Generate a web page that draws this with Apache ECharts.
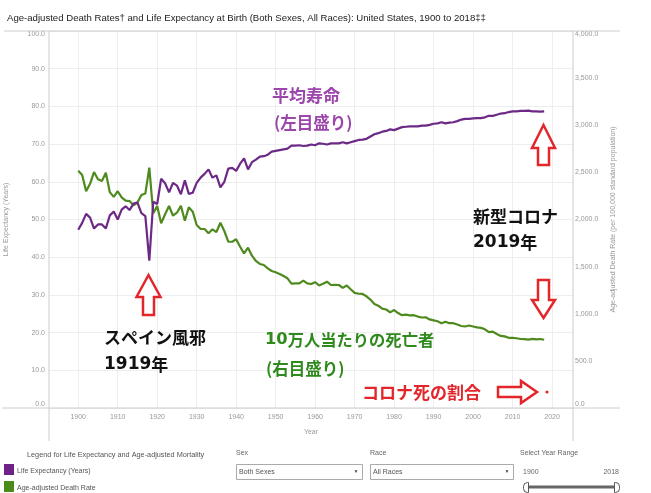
<!DOCTYPE html>
<html>
<head>
<meta charset="utf-8">
<script src="https://cdn.jsdelivr.net/npm/echarts@6/dist/echarts.min.js"></script>
<style>
    html, body { margin: 0; padding: 0; background: #fff; }
    #main { width: 651px; height: 493px; }
</style>
</head>
<body>
<div id="main"></div>
<script>
// 年份
var years = [];
for (var y = 1900; y <= 2018; y++) { years.push(y); }

// 平均寿命（左目盛り）
var lifeExp = [
    47.3, 49.1, 51.5, 50.5, 47.6, 48.7, 48.7, 47.6, 51.1, 52.1,
    50.0, 52.6, 53.5, 52.5, 54.2, 54.5, 51.7, 50.9, 39.1, 54.7,
    54.1, 60.8, 59.6, 57.2, 59.7, 59.0, 56.7, 60.4, 56.8, 57.1,
    59.7, 61.1, 62.1, 63.3, 61.1, 61.7, 58.5, 60.0, 63.5, 63.7,
    62.9, 64.8, 66.2, 63.3, 65.2, 65.9, 66.7, 66.8, 67.2, 68.0,
    68.2, 68.4, 68.6, 68.8, 69.6, 69.6, 69.7, 69.5, 69.6, 69.9,
    69.7, 70.2, 70.1, 69.9, 70.2, 70.2, 70.2, 70.5, 70.2, 70.5,
    70.8, 71.1, 71.2, 71.4, 72.0, 72.6, 72.9, 73.3, 73.5, 73.9,
    73.7, 74.1, 74.5, 74.6, 74.7, 74.7, 74.7, 74.9, 74.9, 75.1,
    75.4, 75.5, 75.8, 75.5, 75.7, 75.8, 76.1, 76.5, 76.7, 76.7,
    76.8, 76.9, 76.9, 77.1, 77.5, 77.5, 77.8, 78.1, 78.2, 78.5,
    78.7, 78.7, 78.8, 78.8, 78.9, 78.7, 78.7, 78.6, 78.7
];

// 10万人当たりの死亡者（右目盛り）
var deathRate = [
    2518, 2473, 2301, 2379, 2503, 2427, 2408, 2497, 2290, 2240,
    2300, 2235, 2200, 2195, 2150, 2180, 2260, 2275, 2550, 2066,
    2143, 1960, 2055, 2143, 2040, 2072, 2146, 1987, 2129, 2083,
    1942, 1899, 1899, 1854, 1896, 1867, 1966, 1878, 1764, 1764,
    1790, 1711, 1641, 1701, 1616, 1560, 1528, 1517, 1482, 1454,
    1440, 1422, 1400, 1376, 1320, 1323, 1323, 1351, 1323, 1316,
    1335, 1300, 1318, 1340, 1305, 1306, 1305, 1275, 1300, 1260,
    1222, 1212, 1210, 1185, 1150, 1104, 1085, 1055, 1045, 1015,
    1039, 1007, 985, 990, 982, 985, 970, 960, 962, 940,
    930, 920, 900, 915, 900, 900, 885, 870, 865, 875,
    865, 855, 850, 835, 805, 810, 785, 765, 760, 745,
    745, 740, 732, 731, 725, 733, 729, 732, 724
];

// x軸の目盛り
var xTicks = [1900, 1910, 1920, 1930, 1940, 1950, 1960, 1970, 1980, 1990, 2000, 2010, 2020];

var pairs = function (xs, vs) {
    var data = [];
    for (var i = 0; i < xs.length; i++) {
        data.push([xs[i], vs[i]]);
    }
    return data;
};

// 矢印（上向き・下向き・右向き）
var upArrow = function (cx, ty, hy, by, hw, sw) {
    return [[cx, ty], [cx + hw, hy], [cx + sw, hy], [cx + sw, by], [cx - sw, by], [cx - sw, hy], [cx - hw, hy]];
};
var downArrow = function (cx, ty, hy, by, hw, sw) {
    return [[cx, by], [cx + hw, hy], [cx + sw, hy], [cx + sw, ty], [cx - sw, ty], [cx - sw, hy], [cx - hw, hy]];
};
var rightArrow = function (cy, lx, hx, tx, hw, sw) {
    return [[tx, cy], [hx, cy - hw], [hx, cy - sw], [lx, cy - sw], [lx, cy + sw], [hx, cy + sw], [hx, cy + hw]];
};

var RED = '#e3262b';
var JP = '"Noto Sans CJK JP", sans-serif';
var LAT = '"Liberation Sans", Arial, sans-serif';

var arrowShape = function (pts) {
    return {
        type: 'polygon',
        shape: { points: pts },
        style: { fill: '#fff', stroke: RED, lineWidth: 2.5 },
        z: 20
    };
};

var jpText = function (x, y, text, color, size) {
    size = size || 17;
    return {
        type: 'text',
        x: x, y: y,
        style: {
            text: text,
            fill: color,
            font: 'bold ' + size + 'px ' + JP,
            verticalAlign: 'middle',
            rich: {
                d: { fontFamily: 'DejaVu Sans', fontWeight: 'bold', fontSize: size, fill: color }
            }
        },
        z: 20
    };
};

var smallText = function (x, y, text, size, color, align) {
    return {
        type: 'text',
        x: x, y: y,
        style: {
            text: text,
            fill: color || '#666',
            font: (size || 7) + 'px ' + LAT,
            verticalAlign: 'middle',
            align: align || 'left'
        },
        z: 20
    };
};

var hline = function (x1, x2, y, color) {
    return { type: 'line', shape: { x1: x1, y1: y, x2: x2, y2: y }, style: { stroke: color || '#ccc', lineWidth: 1 }, z: 5 };
};
var vline = function (x, y1, y2, color) {
    return { type: 'line', shape: { x1: x, y1: y1, x2: x, y2: y2 }, style: { stroke: color || '#ccc', lineWidth: 1 }, z: 5 };
};

var my_chart = echarts.init(document.getElementById('main'));
var option = {
    animation: false,
    title: {
        text: 'Age-adjusted Death Rates\u2020 and Life Expectancy at Birth (Both Sexes, All Races): United States, 1900 to 2018\u2021\u2021',
        left: 2,
        top: 8,
        textStyle: { fontFamily: LAT, fontSize: 9.6, fontWeight: 'normal', color: '#222' }
    },
    grid: { left: 49, right: 78, top: 31, bottom: 85, containLabel: false, outerBoundsMode: 'none' },
    xAxis: {
        type: 'value',
        min: 1892.6,
        max: 2025.3,
        name: 'Year',
        nameLocation: 'middle',
        nameGap: 21,
        nameTextStyle: { fontFamily: LAT, fontSize: 7, color: '#999' },
        axisLine: { show: false },
        axisTick: { show: false, customValues: xTicks },
        axisLabel: {
            customValues: xTicks,
            fontFamily: LAT, fontSize: 7, color: '#999', margin: 6,
            formatter: function (v) { return String(v); }
        },
        splitLine: { show: true, lineStyle: { color: '#eeeeee' } }
    },
    yAxis: [
        {
            type: 'value',
            min: 0, max: 100, interval: 10,
            name: 'Life Expectancy (Years)',
            nameLocation: 'middle',
            nameGap: 39,
            nameTextStyle: { fontFamily: LAT, fontSize: 7, color: '#999' },
            axisLine: { show: false },
            axisTick: { show: false },
            axisLabel: {
                fontFamily: LAT, fontSize: 7, color: '#999', margin: 4,
                verticalAlignMinLabel: 'bottom',
                verticalAlignMaxLabel: 'top',
                formatter: function (v) { return v.toFixed(1); }
            },
            splitLine: { lineStyle: { color: '#eeeeee' } }
        },
        {
            type: 'value',
            min: 0, max: 4000, interval: 500,
            name: 'Age-adjusted Death Rate (per 100,000 standard population)',
            nameLocation: 'middle',
            nameGap: 36,
            nameTextStyle: { fontFamily: LAT, fontSize: 7, color: '#999' },
            axisLine: { show: false },
            axisTick: { show: false },
            axisLabel: {
                fontFamily: LAT, fontSize: 7, color: '#999', margin: 2,
                verticalAlignMinLabel: 'bottom',
                verticalAlignMaxLabel: 'top',
                formatter: function (v) {
                    return v.toLocaleString('en-US', { minimumFractionDigits: 1, maximumFractionDigits: 1 });
                }
            },
            splitLine: { show: false }
        }
    ],
    series: [
        {
            name: 'Life Expectancy (Years)',
            type: 'line',
            yAxisIndex: 0,
            showSymbol: false,
            lineStyle: { width: 2.2, color: '#6c2a86' },
            itemStyle: { color: '#6c2a86' },
            data: pairs(years, lifeExp),
            z: 3
        },
        {
            name: 'Age-adjusted Death Rate',
            type: 'line',
            yAxisIndex: 1,
            showSymbol: false,
            lineStyle: { width: 2.2, color: '#4f8a1e' },
            itemStyle: { color: '#4f8a1e' },
            data: pairs(years, deathRate),
            z: 2
        }
    ],
    graphic: [
        // 枠線
        hline(4, 620, 31),
        hline(2, 620, 408),
        vline(49, 31, 441),
        vline(573, 31, 441),

        // 注釈
        jpText(272, 96, '平均寿命', '#9c45ab'),
        jpText(274, 123, '(左目盛り)', '#9c45ab', 16.5),
        jpText(473, 217, '新型コロナ', '#111'),
        jpText(473, 243, '{d|2019}年', '#111'),
        jpText(104, 338, 'スペイン風邪', '#111'),
        jpText(104, 365, '{d|1919}年', '#111'),
        jpText(265, 340, '{d|10}万人当たりの死亡者', '#2e8a1c', 16.3),
        jpText(266, 369, '(右目盛り)', '#2e8a1c', 16.5),
        jpText(362, 393, 'コロナ死の割合', RED),

        arrowShape(upArrow(148.5, 275, 297, 315, 12, 5.5)),
        arrowShape(upArrow(543.5, 125, 148, 165, 11.5, 5.5)),
        arrowShape(downArrow(543.5, 280, 300, 318, 11.5, 5.5)),
        arrowShape(rightArrow(392, 498, 521, 537, 11, 5)),
        { type: 'circle', shape: { cx: 547, cy: 392, r: 1.6 }, style: { fill: RED }, z: 20 },

        // 凡例
        smallText(27, 455, 'Legend for Life Expectancy and Age-adjusted Mortality', 7.3, '#555'),
        { type: 'rect', shape: { x: 4, y: 464, width: 10, height: 11 }, style: { fill: '#6e2288' }, z: 20 },
        smallText(17, 471, 'Life Expectancy (Years)', 7, '#555'),
        { type: 'rect', shape: { x: 4, y: 481, width: 10, height: 11 }, style: { fill: '#4c8a19' }, z: 20 },
        smallText(17, 488, 'Age-adjusted Death Rate', 7, '#555'),

        // 選択欄
        smallText(236, 453, 'Sex', 7, '#666'),
        { type: 'rect', shape: { x: 236.5, y: 464.5, width: 126, height: 15 }, style: { fill: '#fff', stroke: '#aaa', lineWidth: 1 }, z: 20 },
        smallText(239, 472, 'Both Sexes', 7, '#555'),
        smallText(356, 472, '\u25BC', 5, '#444', 'center'),
        smallText(370, 453, 'Race', 7, '#666'),
        { type: 'rect', shape: { x: 370.5, y: 464.5, width: 143, height: 15 }, style: { fill: '#fff', stroke: '#aaa', lineWidth: 1 }, z: 20 },
        smallText(373, 472, 'All Races', 7, '#555'),
        smallText(507, 472, '\u25BC', 5, '#444', 'center'),
        smallText(520, 453, 'Select Year Range', 7, '#666'),
        smallText(523, 472, '1900', 7, '#666'),
        smallText(619, 472, '2018', 7, '#666', 'right'),
        { type: 'line', shape: { x1: 527, y1: 487, x2: 616, y2: 487 }, style: { stroke: '#666', lineWidth: 3 }, z: 20 },
        { type: 'rect', shape: { x: 523.5, y: 482.5, width: 5, height: 10, r: [4, 0, 0, 4] }, style: { fill: '#fff', stroke: '#555', lineWidth: 1 }, z: 21 },
        { type: 'rect', shape: { x: 614.5, y: 482.5, width: 5, height: 10, r: [0, 4, 4, 0] }, style: { fill: '#fff', stroke: '#555', lineWidth: 1 }, z: 21 }
    ]
};
my_chart.setOption(option);
</script>
</body>
</html>
